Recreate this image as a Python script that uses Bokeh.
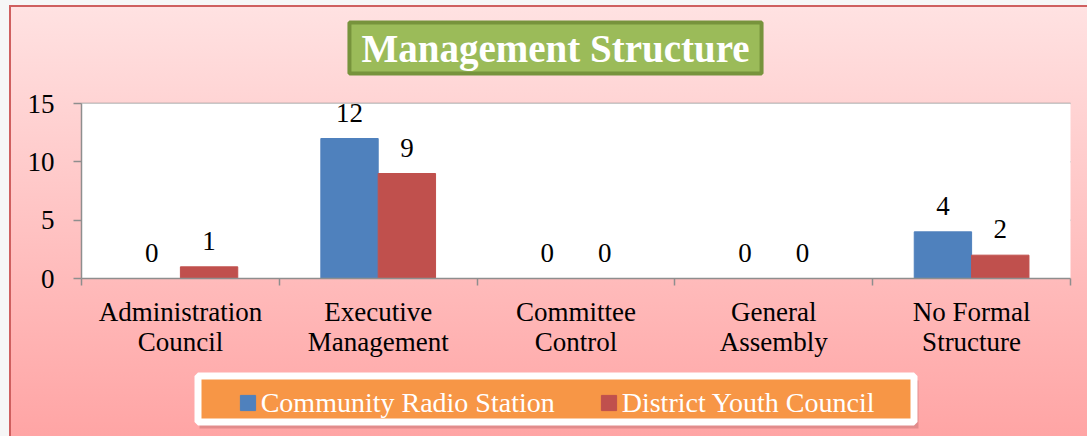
from bokeh.plotting import figure
from bokeh.models import (ColumnDataSource, FixedTicker, LabelSet, Label, Legend,
                          LegendItem, Range1d, BoxAnnotation)
from bokeh.transform import dodge
from bokeh.embed import file_html
from bokeh.resources import INLINE

categories = ["Administration Council", "Executive Management", "Committee Control",
              "General Assembly", "No Formal Structure"]
tick_labels = ["Administration\nCouncil", "Executive\nManagement", "Committee\nControl",
               "General\nAssembly", "No Formal\nStructure"]
series_names = ["Community Radio Station", "District Youth Council"]
community_radio = [0, 12, 0, 0, 4]
district_youth = [1, 9, 0, 0, 2]
y_ticks = [0, 5, 10, 15]
title_text = "Management Structure"

SERIF = "Liberation Serif"
BLUE = "#4F81BD"
RED = "#C0504D"
GRID = "#8E8E8E"

# page layout (pixels)
W, H = 1087, 436
FRAME_L, FRAME_R, FRAME_T, FRAME_B = 81, 1070, 103, 278
n = len(categories)
ymax = max(y_ticks)
xs = (FRAME_R - FRAME_L) / n
ys = (FRAME_B - FRAME_T) / ymax


def px_x(px):
    return (px - FRAME_L) / xs


def px_y(py):
    return (FRAME_B - py) / ys


pos = [i + 0.5 for i in range(n)]
src = ColumnDataSource(dict(
    x=pos, cat=categories, crs=community_radio, dyc=district_youth,
    crs_t=[str(v) for v in community_radio], dyc_t=[str(v) for v in district_youth],
))

p = figure(width=W, height=H, output_backend="svg", toolbar_location=None,
           x_range=Range1d(-FRAME_L / xs, n + (W - FRAME_R) / xs),
           y_range=Range1d(-(H - FRAME_B) / ys, ymax + FRAME_T / ys),
           min_border=0)
p.title_location = None
p.border_fill_color = None
p.background_fill_color = None
p.outline_line_color = None
p.styles = {"background": (
    "linear-gradient(#CF5F5F, #CF5F5F) 9px 5px / 2px 100% no-repeat, "
    "linear-gradient(#CF5F5F, #CF5F5F) 9px 5px / 100% 2px no-repeat, "
    "linear-gradient(#FFE2E2, #FFA4A4) 9px 5px / 100% 100% no-repeat, #F6F6F6")}
p.xgrid.visible = False
p.ygrid.visible = False

# white plot area and horizontal grid lines
p.add_layout(BoxAnnotation(left=0, right=n, bottom=0, top=ymax, fill_color="white",
                           fill_alpha=1.0, line_color=None, level="underlay"))
grid_y = [v for v in y_ticks if v > 0]
p.segment(x0=[0] * len(grid_y), x1=[n] * len(grid_y), y0=grid_y, y1=grid_y,
          line_color=GRID, line_width=1.5, level="underlay")

w = 0.29
r1 = p.vbar(x=dodge("x", -w / 2, range=p.x_range), top="crs", width=w, source=src,
            fill_color=BLUE, line_color=BLUE)
r2 = p.vbar(x=dodge("x", w / 2, range=p.x_range), top="dyc", width=w, source=src,
            fill_color=RED, line_color=RED)

for col, off in (("crs", -w / 2), ("dyc", w / 2)):
    ls = LabelSet(x=dodge("x", off, range=p.x_range), y=col, text=col + "_t", source=src,
                  text_align="center", text_baseline="alphabetic", y_offset=17,
                  text_font=SERIF, text_font_size="27px", text_color="black")
    p.add_layout(ls)

# y axis (drawn at x = 0)
ya = p.yaxis[0]
ya.fixed_location = 0
ya.bounds = (0, ymax)
ya.ticker = FixedTicker(ticks=y_ticks)
ya.axis_line_color = GRID
ya.axis_line_width = 1.5
ya.major_tick_line_color = GRID
ya.major_tick_line_width = 1.5
ya.major_tick_out = 8
ya.major_tick_in = 0
ya.minor_tick_line_color = None
ya.major_label_text_font = SERIF
ya.major_label_text_font_size = "27px"
ya.major_label_text_color = "black"
ya.major_label_standoff = 19

# x axis (drawn at y = 0)
xa = p.xaxis[0]
xa.fixed_location = 0
xa.bounds = (0, n)
xa.ticker = FixedTicker(ticks=pos, minor_ticks=list(range(n + 1)))
xa.major_label_overrides = {pv: t for pv, t in zip(pos, tick_labels)}
xa.axis_line_color = GRID
xa.axis_line_width = 1.5
xa.major_tick_line_color = None
xa.major_tick_out = 0
xa.major_tick_in = 0
xa.minor_tick_line_color = GRID
xa.minor_tick_line_width = 1.5
xa.minor_tick_out = 7
xa.minor_tick_in = 0
xa.major_label_text_font = SERIF
xa.major_label_text_font_size = "27px"
xa.major_label_text_line_height = 1.0
xa.major_label_text_color = "black"
xa.major_label_standoff = 11

# title box
p.add_layout(Label(x=px_x(555), y=px_y(47.5), text=title_text,
                   text_align="center", text_baseline="middle",
                   text_font=SERIF, text_font_style="bold", text_font_size="39px",
                   text_color="white", background_fill_color="#9BBB59",
                   border_line_color="#77933C", border_line_width=4,
                   padding=dict(left=12, right=12, top=4, bottom=4)))

# legend box (shadow + orange panel with white rim)
p.add_layout(BoxAnnotation(left=px_x(199), right=px_x(918), top=px_y(380), bottom=px_y(428),
                           fill_color="#A05050", fill_alpha=0.3, line_color=None))
p.add_layout(BoxAnnotation(left=px_x(197.5), right=px_x(913.5), top=px_y(375.5),
                           bottom=px_y(421.5), fill_color="#F79646", fill_alpha=1.0,
                           line_color="white", line_alpha=1.0, line_width=7))

legend = Legend(items=[LegendItem(label=series_names[0], renderers=[r1]),
                       LegendItem(label=series_names[1], renderers=[r2])],
                location=(237.7, H - 418.5), orientation="horizontal",
                background_fill_alpha=0, border_line_color=None,
                padding=5, spacing=44, label_standoff=4, margin=0,
                glyph_width=19, glyph_height=19,
                label_text_font=SERIF, label_text_font_size="28px",
                label_text_color="white")
p.add_layout(legend, "center")

open("out.html", "w").write(file_html(p, INLINE))
